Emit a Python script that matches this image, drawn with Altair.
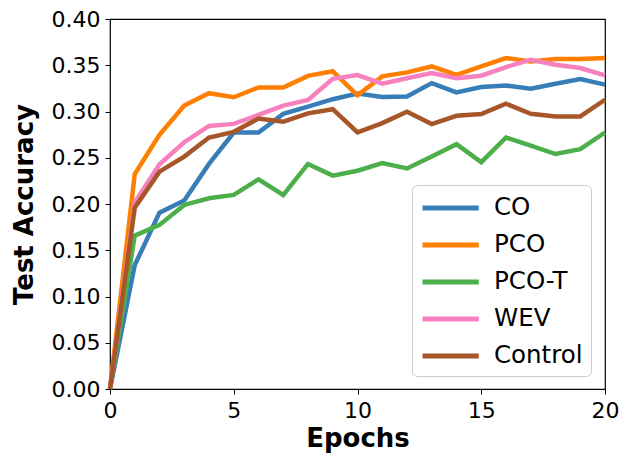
import altair as alt
import pandas as pd

epochs = list(range(21))
series_names = ["CO", "PCO", "PCO-T", "WEV", "Control"]
colors = ["#377eb8", "#ff7f00", "#4daf4a", "#f781bf", "#a65628"]

co = [0.0, 0.134, 0.1907, 0.2037, 0.2433, 0.2772, 0.2772, 0.2974, 0.3053, 0.3133, 0.3195,
      0.3156, 0.3163, 0.3307, 0.3206, 0.3264, 0.328, 0.3246, 0.33, 0.335, 0.329]
pco = [0.0, 0.2325, 0.2747, 0.3064, 0.3198, 0.3154, 0.326, 0.326, 0.3385, 0.3435, 0.3175,
       0.338, 0.3423, 0.3487, 0.3397, 0.3487, 0.3578, 0.354, 0.3567, 0.3567, 0.3578]
pco_t = [0.0, 0.1658, 0.1774, 0.199, 0.2062, 0.2098, 0.2267, 0.2098, 0.2433, 0.2307, 0.236,
         0.2442, 0.2384, 0.2514, 0.2647, 0.2452, 0.2719, 0.263, 0.254, 0.2593, 0.2773]
wev = [0.0, 0.2015, 0.243, 0.2668, 0.2844, 0.2866, 0.2963, 0.3064, 0.3125, 0.3353, 0.3393,
       0.33, 0.336, 0.3415, 0.336, 0.3387, 0.348, 0.356, 0.3506, 0.347, 0.339]
control = [0.0, 0.196, 0.235, 0.2513, 0.2718, 0.278, 0.2924, 0.289, 0.298, 0.3025, 0.2775,
           0.2874, 0.2997, 0.2864, 0.2954, 0.2972, 0.3084, 0.2975, 0.2947, 0.2947, 0.3127]

x_ticks = [0, 5, 10, 15, 20]
y_ticks = [0.0, 0.05, 0.10, 0.15, 0.20, 0.25, 0.30, 0.35, 0.40]

rows = []
for name, vals in zip(series_names, [co, pco, pco_t, wev, control]):
    for e, v in zip(epochs, vals):
        rows.append({"Epoch": e, "Accuracy": v, "Method": name})
df = pd.DataFrame(rows)

chart = alt.Chart(df).mark_line(strokeWidth=4.5).encode(
    x=alt.X("Epoch:Q",
            scale=alt.Scale(domain=[0, 20], nice=False),
            axis=alt.Axis(title="Epochs", values=x_ticks, format="d",
                          titleX=247.5, titleY=57, titleBaseline="alphabetic",
                          titleAlign="center", labelPadding=6, labelFlush=False)),
    y=alt.Y("Accuracy:Q",
            scale=alt.Scale(domain=[0, 0.4], nice=False),
            axis=alt.Axis(title="Test Accuracy", values=y_ticks, format=".2f",
                          titleX=-78, titleY=185, titleBaseline="alphabetic",
                          titleAngle=270, titleAlign="center", labelPadding=5,
                          labelFlush=False)),
    color=alt.Color("Method:N",
                    scale=alt.Scale(domain=series_names, range=colors),
                    legend=alt.Legend(title=None, orient="none", legendX=302, legendY=166,
                                      symbolType="M-1,0H3.5", symbolSize=625,
                                      symbolStrokeWidth=5, labelFontSize=24.5,
                                      labelOffset=44, rowPadding=10, padding=8,
                                      fillColor="white", strokeColor="#cccccc",
                                      cornerRadius=5, labelColor="black",
                                      labelBaseline="middle")),
    order=alt.Order("Epoch:Q"),
).properties(
    width=495, height=370,
    padding={"left": 102, "top": 11, "right": 15, "bottom": 67},
    autosize=alt.AutoSizeParams(type="none"),
).configure(font="DejaVu Sans").configure_view(
    stroke="black", strokeWidth=1.2
).configure_axis(
    grid=False, domain=False, tickColor="black", tickSize=5, tickWidth=1,
    labelColor="black", labelFontSize=22, titleFontSize=26, titleFontWeight="bold",
    titleColor="black"
)

chart.save("out.html", embed_options={"renderer": "svg", "actions": False})
